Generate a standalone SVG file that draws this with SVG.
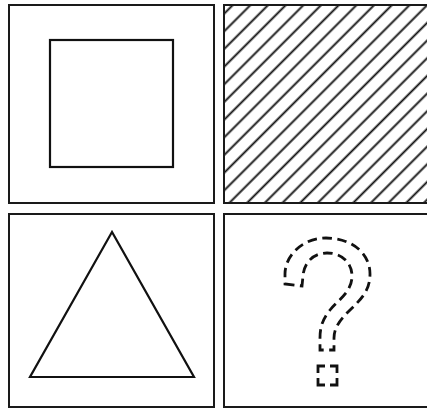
<svg xmlns="http://www.w3.org/2000/svg" width="427" height="410" viewBox="0 0 427 410">
<style>
.panel{fill:none;stroke:#1a1a1a;stroke-width:2}
.shape{fill:none;stroke:#111;stroke-width:2.2;stroke-linejoin:miter}
.dash{fill:none;stroke:#111;stroke-width:2.8;stroke-dasharray:9.5 5.5}
</style>
<defs>
<pattern id="hatch" patternUnits="userSpaceOnUse" width="12.5" height="12.5" patternTransform="translate(224 5) rotate(45)">
<line x1="6.25" y1="-1" x2="6.25" y2="14" stroke="#111" stroke-width="1.9"/>
</pattern>
</defs>
<rect width="427" height="410" fill="#fff"/>
<g id="panel-square">
<rect class="panel" x="9" y="5" width="205" height="198"/>
<rect class="shape" x="50" y="40" width="123" height="127"/>
</g>
<g id="panel-hatch">
<rect x="224" y="5" width="203" height="198" fill="url(#hatch)"/>
<rect class="panel" x="224" y="5" width="205" height="198"/>
</g>
<g id="panel-triangle">
<rect class="panel" x="9" y="214" width="205" height="193"/>
<polygon class="shape" points="112,232 30,377 194,377"/>
</g>
<g id="panel-question">
<rect class="panel" x="224" y="214" width="205" height="193"/>
<path class="dash" d="M285 284 L302 286 L303 276 C304 262 314 253 327 253 C342 253 352 263 352 276 C352 292 338 300 330 310 C322 320 320 328 320 338 L320 350 L334 350 L334 338 C334 328 340 320 348 312 C360 300 370 292 370 274 C370 252 350 238 326 238 C302 238 285 256 285 274 Z"/>
<path fill="none" stroke="#111" stroke-width="2.8" stroke-dasharray="14 5" stroke-dashoffset="7" d="M318 366 L337 366 L337 385 L318 385 Z"/>
</g>
<g id="connectors"/>
</svg>
